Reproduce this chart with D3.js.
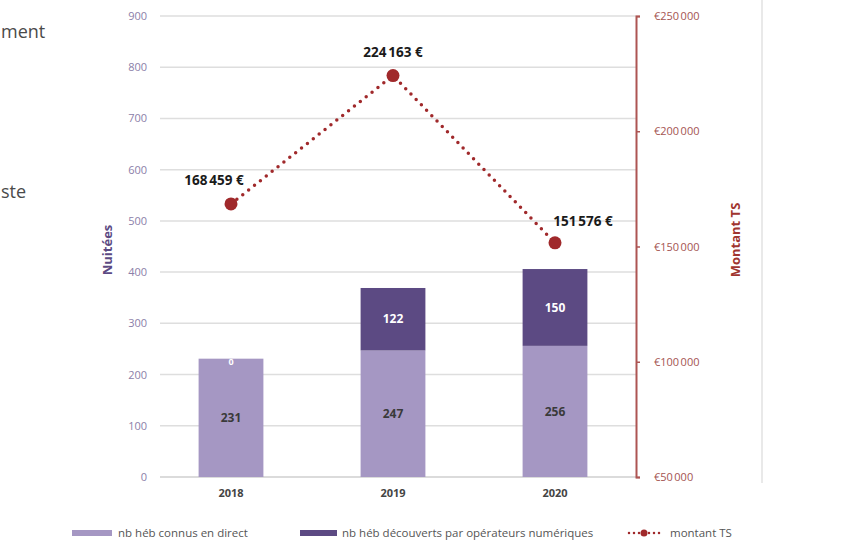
<!DOCTYPE html>
<html>
<head>
<meta charset="utf-8">
<script src="https://cdn.jsdelivr.net/npm/d3@7"></script>
<style>
  html, body { margin: 0; padding: 0; background: #fff; }
  #chart { width: 866px; height: 553px; }
  text { font-family: "Open Sans", "DejaVu Sans", sans-serif; }
</style>
</head>
<body>
<div id="chart"></div>
<script>
const years = ["2018", "2019", "2020"];
const connusDirect = [231, 247, 256];
const operateursNum = [0, 122, 150];
const montantTS = [168459, 224163, 151576];
const leftTicks = [0, 100, 200, 300, 400, 500, 600, 700, 800, 900];
const rightTicks = [50000, 100000, 150000, 200000, 250000];
const seriesNames = ["nb héb connus en direct", "nb héb découverts par opérateurs numériques", "montant TS"];

const width = 866, height = 553;
const colLight = "#a597c3", colDark = "#5c4a83", colRed = "#a0292b";

const svg = d3.select("#chart").append("svg")
  .attr("width", width)
  .attr("height", height);

// bits of the surrounding page text, cut by the crop
svg.append("text").attr("x", 1).attr("y", 38).attr("font-size", 18).attr("fill", "#4a4a4a").text("ment");
svg.append("text").attr("x", 1).attr("y", 198).attr("font-size", 18).attr("fill", "#4a4a4a").text("ste");

// faint frame line on the right
svg.append("line")
  .attr("x1", 762).attr("x2", 762).attr("y1", 0).attr("y2", 483)
  .attr("stroke", "#e2e2e2").attr("stroke-width", 1.5);

const x = d3.scaleBand()
  .domain(years)
  .range([150, 636])
  .paddingInner(0.6)
  .paddingOuter(0.3);

const y = d3.scaleLinear().domain([0, 900]).range([477, 16]);
const y2 = d3.scaleLinear().domain([50000, 250000]).range([477, 16]);

// grid
svg.append("g").selectAll("line")
  .data(leftTicks)
  .join("line")
  .attr("x1", 160).attr("x2", 636)
  .attr("y1", d => y(d)).attr("y2", d => y(d))
  .attr("stroke", d => d === 0 ? "#cfcfcf" : "#dedede")
  .attr("stroke-width", 1.5);

// left axis
const leftAxis = svg.append("g")
  .attr("transform", "translate(160,0)")
  .call(d3.axisLeft(y).tickValues(leftTicks).tickSize(0).tickPadding(13));
leftAxis.select(".domain").remove();
leftAxis.selectAll("text").attr("font-size", 11).attr("fill", "#8b80a9");

svg.append("text")
  .attr("transform", "translate(112,250) rotate(-90)")
  .attr("text-anchor", "middle")
  .attr("font-size", 13).attr("font-weight", "bold")
  .attr("fill", "#5c4a83")
  .text("Nuitées");

// right axis
const euro = v => "€" + d3.format(",")(v).replace(/,/g, "\u202f");
const rightAxis = svg.append("g")
  .attr("transform", "translate(636,0)")
  .call(d3.axisRight(y2).tickValues(rightTicks).tickSize(4).tickPadding(14).tickFormat(euro));
rightAxis.select(".domain").attr("stroke", "#ad5553").attr("stroke-width", 2);
rightAxis.selectAll(".tick line").attr("stroke", "#ad5553").attr("stroke-width", 1.5);
rightAxis.selectAll("text").attr("font-size", 11).attr("fill", "#a45452");

svg.append("text")
  .attr("transform", "translate(740,240) rotate(-90)")
  .attr("text-anchor", "middle")
  .attr("font-size", 13).attr("font-weight", "bold")
  .attr("fill", "#a0352f")
  .text("Montant TS");

// bars
const stackData = years.map((yr, i) => ({ year: yr, a: connusDirect[i], b: operateursNum[i] }));
const stack = d3.stack().keys(["a", "b"])(stackData);
const colors = [colLight, colDark];

const layers = svg.append("g").selectAll("g")
  .data(stack)
  .join("g")
  .attr("fill", (d, i) => colors[i]);

layers.selectAll("rect")
  .data(d => d)
  .join("rect")
  .attr("x", d => x(d.data.year))
  .attr("y", d => y(d[1]))
  .attr("width", x.bandwidth())
  .attr("height", d => y(d[0]) - y(d[1]));

// bar labels
stack.forEach((layer, li) => {
  svg.append("g").selectAll("text")
    .data(layer)
    .join("text")
    .attr("x", d => x(d.data.year) + x.bandwidth() / 2)
    .attr("y", d => (d[1] - d[0]) > 0 ? (y(d[0]) + y(d[1])) / 2 : y(d[1]) + 3)
    .attr("dy", "0.35em")
    .attr("text-anchor", "middle")
    .attr("font-size", d => (d[1] - d[0]) > 0 ? 12 : 9)
    .attr("font-weight", "bold")
    .attr("fill", li === 0 ? "#3a3a3a" : "#ffffff")
    .text(d => d[1] - d[0]);
});

// x axis labels
const xAxis = svg.append("g")
  .attr("transform", "translate(0,477)")
  .call(d3.axisBottom(x).tickSize(0).tickPadding(12));
xAxis.select(".domain").remove();
xAxis.selectAll("text").attr("font-size", 11).attr("font-weight", "bold").attr("fill", "#444");

// montant TS line
const cx = d => x(d) + x.bandwidth() / 2;
const lineData = years.map((yr, i) => ({ year: yr, v: montantTS[i] }));
svg.append("path")
  .datum(lineData)
  .attr("d", d3.line().x(d => cx(d.year)).y(d => y2(d.v)))
  .attr("fill", "none")
  .attr("stroke", colRed)
  .attr("stroke-width", 3.5)
  .attr("stroke-linecap", "round")
  .attr("stroke-dasharray", "0,7.5");

svg.append("g").selectAll("circle")
  .data(lineData)
  .join("circle")
  .attr("cx", d => cx(d.year))
  .attr("cy", d => y2(d.v))
  .attr("r", 6.5)
  .attr("fill", colRed);

const fmtEuro = v => d3.format(",")(v).replace(/,/g, "\u202f") + " €";
const labelOffsets = [[-17, -19], [0, -19], [28, -17]];
svg.append("g").selectAll("text")
  .data(lineData)
  .join("text")
  .attr("x", (d, i) => cx(d.year) + labelOffsets[i][0])
  .attr("y", (d, i) => y2(d.v) + labelOffsets[i][1])
  .attr("text-anchor", "middle")
  .attr("font-size", 13.5)
  .attr("font-weight", "bold")
  .attr("fill", "#1a1a1a")
  .attr("letter-spacing", "-0.3")
  .text(d => fmtEuro(d.v));

// legend
const legend = svg.append("g").attr("transform", "translate(0,533)");
legend.append("rect").attr("x", 72).attr("y", -3).attr("width", 40).attr("height", 6).attr("fill", colLight);
legend.append("text").attr("x", 118).attr("y", 0).attr("dy", "0.35em")
  .attr("font-size", 11.5).attr("fill", "#555").text(seriesNames[0]);
legend.append("rect").attr("x", 300).attr("y", -3).attr("width", 37).attr("height", 6).attr("fill", colDark);
legend.append("text").attr("x", 342).attr("y", 0).attr("dy", "0.35em")
  .attr("font-size", 11.5).attr("fill", "#555").text(seriesNames[1]);
legend.append("line").attr("x1", 629).attr("x2", 660).attr("y1", 0).attr("y2", 0)
  .attr("stroke", colRed).attr("stroke-width", 2.5).attr("stroke-linecap", "round")
  .attr("stroke-dasharray", "0,5");
legend.append("circle").attr("cx", 644).attr("cy", 0).attr("r", 3.5).attr("fill", colRed);
legend.append("text").attr("x", 670).attr("y", 0).attr("dy", "0.35em")
  .attr("font-size", 11.5).attr("fill", "#555").text(seriesNames[2]);
</script>
</body>
</html>
